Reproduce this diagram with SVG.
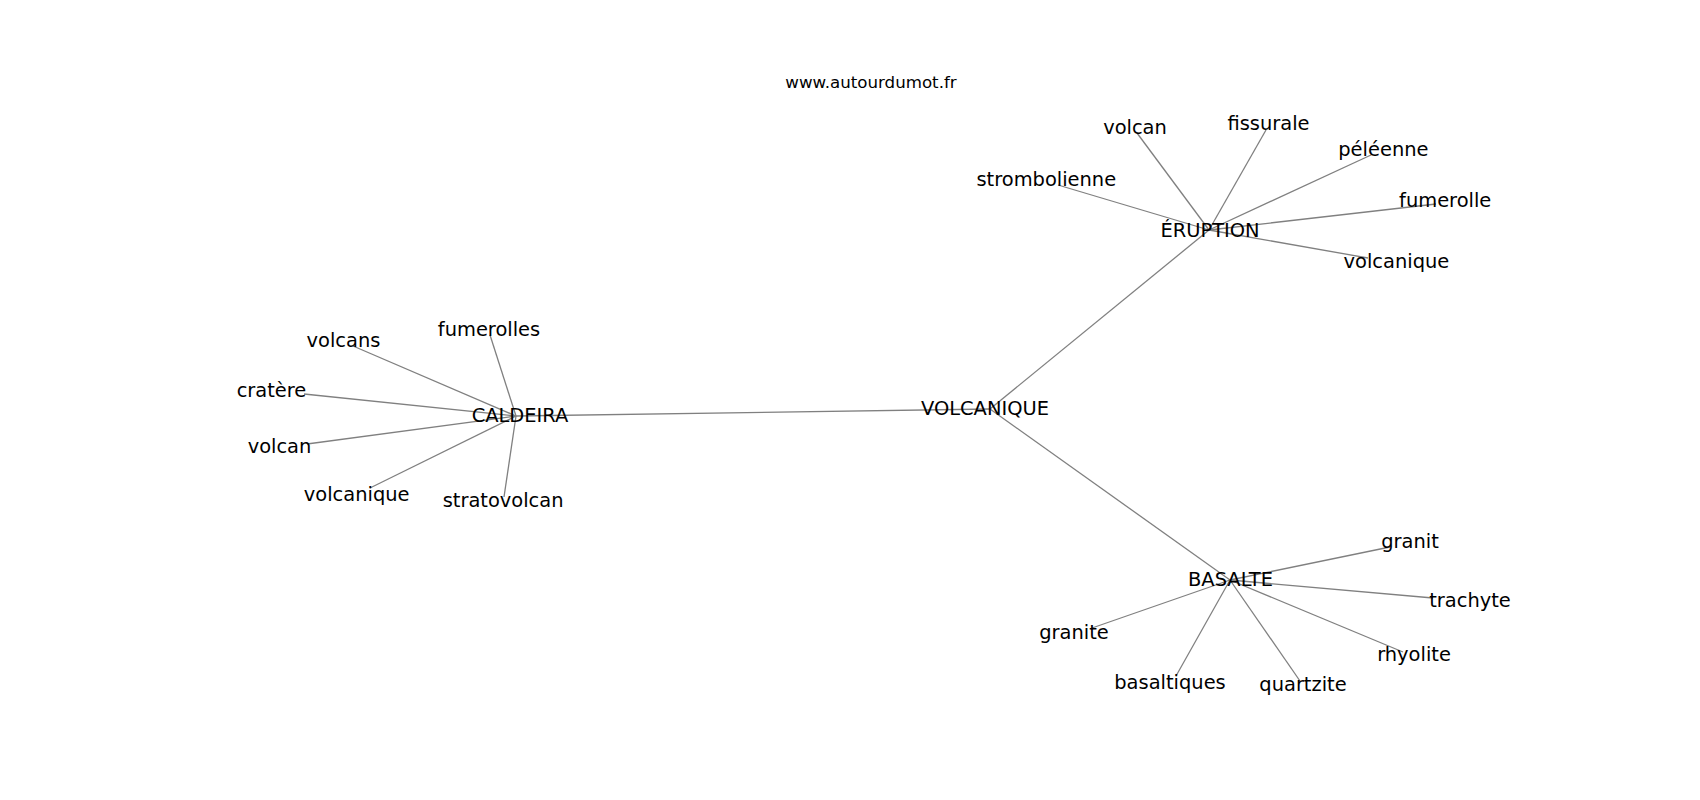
<svg xmlns="http://www.w3.org/2000/svg" width="1700" height="800" viewBox="0 0 1700 800">
<style>
.bg{fill:#ffffff}
.lbl{font-family:"DejaVu Sans",sans-serif;font-size:19.44px;fill:#000000;text-anchor:middle}
.title{font-family:"DejaVu Sans",sans-serif;font-size:16.67px;fill:#000000;text-anchor:middle}
.edges line{stroke:#808080;stroke-width:1.3}
</style>
<rect class="bg" x="0" y="0" width="1700" height="800"/>
<text class="title" x="871" y="88">www.autourdumot.fr</text>
<g id="connectors" class="edges">
<line x1="990" y1="409" x2="516" y2="416"/>
<line x1="990" y1="409" x2="1209" y2="230"/>
<line x1="990" y1="409" x2="1230" y2="580"/>
<line x1="1209" y1="230" x2="1058" y2="185"/>
<line x1="1209" y1="230" x2="1137" y2="133"/>
<line x1="1209" y1="230" x2="1266" y2="130"/>
<line x1="1209" y1="230" x2="1371" y2="155"/>
<line x1="1209" y1="230" x2="1436" y2="204"/>
<line x1="1209" y1="230" x2="1368" y2="258"/>
<line x1="516" y1="416" x2="490" y2="335"/>
<line x1="516" y1="416" x2="353" y2="346"/>
<line x1="516" y1="416" x2="304" y2="394"/>
<line x1="516" y1="416" x2="307" y2="444"/>
<line x1="516" y1="416" x2="370" y2="488"/>
<line x1="516" y1="416" x2="504" y2="497"/>
<line x1="1230" y1="580" x2="1390" y2="547"/>
<line x1="1230" y1="580" x2="1433" y2="598"/>
<line x1="1230" y1="580" x2="1403" y2="652"/>
<line x1="1230" y1="580" x2="1300" y2="681"/>
<line x1="1230" y1="580" x2="1176" y2="676"/>
<line x1="1230" y1="580" x2="1092" y2="628"/>
</g>
<g id="n-volcanique"><text class="lbl" x="985" y="414.5">VOLCANIQUE</text></g>
<g id="n-eruption"><text class="lbl" x="1210" y="236.5">ÉRUPTION</text></g>
<g id="n-caldeira"><text class="lbl" x="520" y="422">CALDEIRA</text></g>
<g id="n-basalte"><text class="lbl" x="1230.5" y="586">BASALTE</text></g>
<g id="n-e-volcan"><text class="lbl" x="1135" y="134">volcan</text></g>
<g id="n-e-fissurale"><text class="lbl" x="1268.5" y="129.6">fissurale</text></g>
<g id="n-e-peleenne"><text class="lbl" x="1383.4" y="155.6">péléenne</text></g>
<g id="n-e-strombolienne"><text class="lbl" x="1046.3" y="186">strombolienne</text></g>
<g id="n-e-fumerolle"><text class="lbl" x="1445.2" y="206.6">fumerolle</text></g>
<g id="n-e-volcanique"><text class="lbl" x="1396.4" y="268.3">volcanique</text></g>
<g id="n-c-fumerolles"><text class="lbl" x="489" y="336">fumerolles</text></g>
<g id="n-c-volcans"><text class="lbl" x="343.5" y="347">volcans</text></g>
<g id="n-c-cratere"><text class="lbl" x="271.5" y="397">cratère</text></g>
<g id="n-c-volcan"><text class="lbl" x="279.5" y="453">volcan</text></g>
<g id="n-c-volcanique"><text class="lbl" x="356.7" y="500.5">volcanique</text></g>
<g id="n-c-stratovolcan"><text class="lbl" x="503.1" y="507">stratovolcan</text></g>
<g id="n-b-granit"><text class="lbl" x="1410" y="548.3">granit</text></g>
<g id="n-b-trachyte"><text class="lbl" x="1470" y="607.3">trachyte</text></g>
<g id="n-b-rhyolite"><text class="lbl" x="1414" y="660.5">rhyolite</text></g>
<g id="n-b-quartzite"><text class="lbl" x="1303" y="691">quartzite</text></g>
<g id="n-b-basaltiques"><text class="lbl" x="1170" y="689">basaltiques</text></g>
<g id="n-b-granite"><text class="lbl" x="1074" y="639">granite</text></g>
</svg>
